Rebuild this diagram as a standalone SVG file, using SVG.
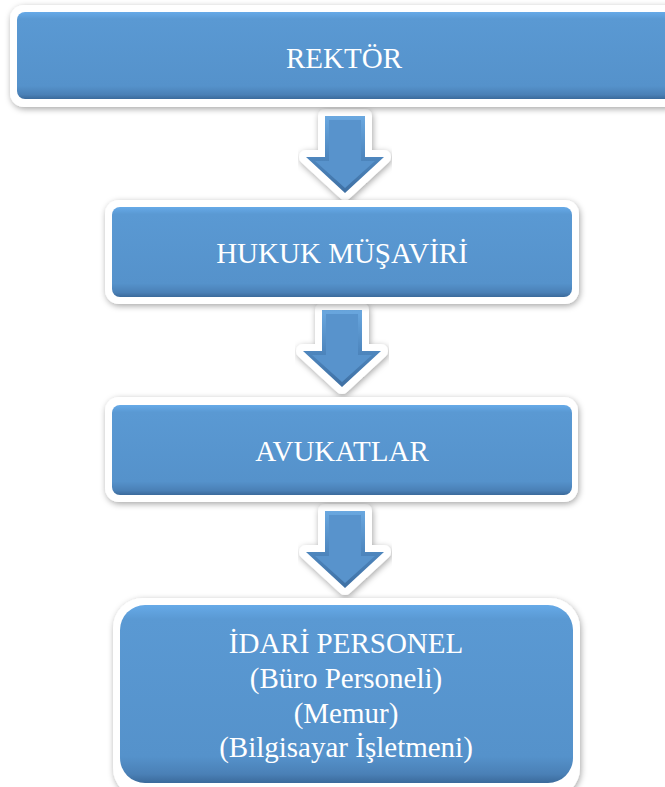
<svg xmlns="http://www.w3.org/2000/svg" width="665" height="787" viewBox="0 0 665 787">
<defs>
  <filter id="sh" x="-10%" y="-20%" width="120%" height="150%">
    <feDropShadow dx="1" dy="2" stdDeviation="3" flood-color="#000" flood-opacity="0.35"/>
  </filter>
  <linearGradient id="bg" x1="0" y1="0" x2="0" y2="1">
    <stop offset="0" stop-color="#66aae8"/>
    <stop offset="0.08" stop-color="#5a99d3"/>
    <stop offset="0.85" stop-color="#5592cb"/>
    <stop offset="0.95" stop-color="#4a80b6"/>
    <stop offset="1" stop-color="#3b6a9b"/>
  </linearGradient>
  <linearGradient id="ag" x1="0" y1="0" x2="0" y2="1">
    <stop offset="0" stop-color="#6aa8e0"/>
    <stop offset="0.5" stop-color="#4f88c0"/>
    <stop offset="1" stop-color="#3f70a3"/>
  </linearGradient>
  <path id="arrow" d="M-20,0 L20,0 L20,41 L39,41 L0,77 L-39,41 L-20,41 Z"/>
  <path id="arrowIn" d="M-16,4 L16,4 L16,45 L30,45 L0,72 L-30,45 L-16,45 Z"/>
  <style>
    .frame{fill:#fff;filter:url(#sh)}
    .box{fill:url(#bg)}
    .lbl{font-family:"Liberation Serif","Times New Roman",serif;font-size:29px;fill:#fff;text-anchor:middle}
    .aout{fill:#fff;stroke:#fff;stroke-width:14;stroke-linejoin:round;filter:url(#sh)}
    .abase{fill:url(#ag)}
    .ain{fill:#5893cc}
  </style>
</defs>
<rect width="665" height="787" fill="#fff"/>
<g id="connectors">
  <g transform="translate(345,116)">
    <use href="#arrow" class="aout"/>
    <use href="#arrow" class="abase"/>
    <use href="#arrowIn" class="ain"/>
  </g>
  <g transform="translate(342,310)">
    <use href="#arrow" class="aout"/>
    <use href="#arrow" class="abase"/>
    <use href="#arrowIn" class="ain"/>
  </g>
  <g transform="translate(345,511)">
    <use href="#arrow" class="aout"/>
    <use href="#arrow" class="abase"/>
    <use href="#arrowIn" class="ain"/>
  </g>
</g>
<g id="rektor">
  <rect class="frame" x="10" y="5" width="670" height="102" rx="14"/>
  <rect class="box" x="17" y="12" width="660" height="87" rx="8"/>
  <text class="lbl" x="344" y="68">REKTÖR</text>
</g>
<g id="hukuk">
  <rect class="frame" x="105" y="200" width="474" height="104" rx="14"/>
  <rect class="box" x="112" y="207" width="460" height="90" rx="8"/>
  <text class="lbl" x="342" y="263">HUKUK MÜŞAVİRİ</text>
</g>
<g id="avukatlar">
  <rect class="frame" x="105" y="397" width="473" height="105" rx="14"/>
  <rect class="box" x="112" y="405" width="460" height="90" rx="8"/>
  <text class="lbl" x="342" y="461">AVUKATLAR</text>
</g>
<g id="idari">
  <rect class="frame" x="113" y="598" width="467" height="200" rx="30"/>
  <rect class="box" x="120" y="605" width="453" height="178" rx="25"/>
  <text class="lbl" x="346" y="653">İDARİ PERSONEL</text>
  <text class="lbl" x="346" y="688">(Büro Personeli)</text>
  <text class="lbl" x="346" y="723">(Memur)</text>
  <text class="lbl" x="346" y="757">(Bilgisayar İşletmeni)</text>
</g>
</svg>
